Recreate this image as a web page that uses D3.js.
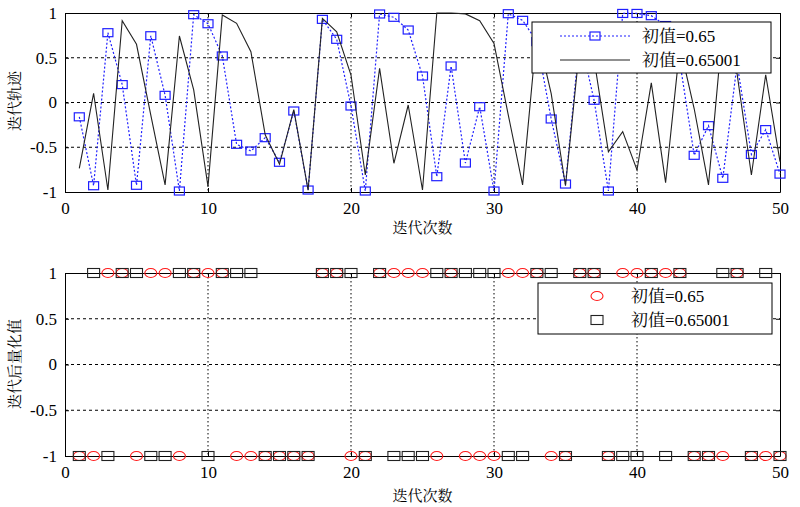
<!DOCTYPE html>
<html><head><meta charset="utf-8">
<script src="https://cdn.jsdelivr.net/npm/d3@7"></script>
<style>
html,body{margin:0;padding:0;background:#fff;}
</style></head>
<body>
<svg id="c" width="800" height="507"></svg>
<script>
// ---- data ----
const iterations = [1,2,3,4,5,6,7,8,9,10,11,12,13,14,15,16,17,18,19,20,21,22,23,24,25,26,27,28,29,30,31,32,33,34,35,36,37,38,39,40,41,42,43,44,45,46,47,48,49,50];
const traj065 = [-0.16,-0.93,0.78,0.20,-0.925,0.746,0.08,-0.989,0.981,0.88,
  0.52,-0.467,-0.542,-0.393,-0.668,-0.095,-0.978,0.929,0.706,-0.039,
  -0.989,0.989,0.952,0.81,0.296,-0.829,0.408,-0.676,-0.047,-0.989,
  0.992,0.918,0.68,-0.184,-0.911,0.73,0.025,-0.989,0.995,0.995,
  0.97,0.86,0.45,-0.59,-0.259,-0.847,0.43,-0.58,-0.303,-0.80];
const traj065001 = [-0.735,0.103,-0.978,0.914,0.65,-0.14,-0.92,0.743,0.14,-0.94,
  0.978,0.885,0.568,-0.36,-0.69,-0.08,-0.98,0.94,0.79,0.307,
  -0.81,0.382,-0.679,-0.028,-0.978,1.0,1.0,0.99,0.914,0.66,
  -0.14,-0.92,0.79,0.10,-0.93,0.64,0.48,-0.55,-0.326,-0.754,
  0.22,-0.896,0.63,-0.07,-0.92,0.85,0.32,-0.81,0.31,-0.66];
const quant065 = [-1,-1,1,1,-1,1,1,-1,1,1, 1,-1,-1,-1,-1,-1,-1,1,1,-1,
  -1,1,1,1,1,-1,1,-1,-1,-1, 1,1,1,-1,-1,1,1,-1,1,1, 1,1,1,-1,-1,-1,1,-1,-1,-1];
const quant065001 = [-1,1,-1,1,1,-1,-1,1,1,-1, 1,1,1,-1,-1,-1,-1,1,1,1,
  -1,1,-1,-1,-1,1,1,1,1,1, -1,-1,1,1,-1,1,1,-1,-1,-1, 1,-1,1,-1,-1,1,1,-1,1,-1];
const xTicks = [0,10,20,30,40,50];
const xTickLabels = ["0","10","20","30","40","50"];
const yTicks = [-1,-0.5,0,0.5,1];
const yTickLabels = ["-1","-0.5","0","0.5","1"];
const legendPrefix = "初值";
const legendValues = ["=0.65","=0.65001"];
const xLabel = "迭代次数";
const yLabelTop = "迭代轨迹";
const yLabelBottom = "迭代后量化值";

// ---- drawing ----
const svg = d3.select("#c");
const L = 65, R = 780;
const x = d3.scaleLinear().domain([0,50]).range([L,R]);
const yT = d3.scaleLinear().domain([-1,1]).range([192,13]);
const yB = d3.scaleLinear().domain([-1,1]).range([456,273]);
const BLUE = "#1f1fff", RED = "#ff1a1a", BLK = "#222";
const SERIF = '"Liberation Serif","Times New Roman",serif';
const CJK = '"Noto Serif CJK SC","Noto Sans CJK SC",serif';

function frame(y, xlabY, ylab, ylabCy){
  const g = svg.append("g");
  g.selectAll(".gv").data(xTicks.filter(t=>t>0&&t<50)).join("line")
    .attr("x1",d=>x(d)).attr("x2",d=>x(d)).attr("y1",y(1)).attr("y2",y(-1))
    .attr("stroke","#000").attr("stroke-width",1).attr("stroke-dasharray","1.5,2.5");
  g.selectAll(".gh").data(yTicks.filter(t=>t>-1&&t<1)).join("line")
    .attr("x1",L).attr("x2",R).attr("y1",d=>y(d)).attr("y2",d=>y(d))
    .attr("stroke","#000").attr("stroke-width",1).attr("stroke-dasharray","3,3");
  const ax = g.append("g");
  ax.append("g").attr("transform",`translate(0,${y(-1)})`)
    .call(d3.axisBottom(x).tickValues(xTicks).tickFormat((d,i)=>xTickLabels[i]).tickSizeInner(-4).tickSizeOuter(0).tickPadding(10));
  ax.append("g").attr("transform",`translate(0,${y(1)})`)
    .call(d3.axisTop(x).tickValues(xTicks).tickFormat("").tickSizeInner(-4).tickSizeOuter(0));
  ax.append("g").attr("transform",`translate(${L},0)`)
    .call(d3.axisLeft(y).tickValues(yTicks).tickFormat((d,i)=>yTickLabels[i]).tickSizeInner(-4).tickSizeOuter(0).tickPadding(8));
  ax.append("g").attr("transform",`translate(${R},0)`)
    .call(d3.axisRight(y).tickValues(yTicks).tickFormat("").tickSizeInner(-4).tickSizeOuter(0));
  ax.selectAll("path.domain").attr("stroke","#000").attr("stroke-width",1);
  ax.selectAll(".tick line").attr("stroke","#000");
  ax.selectAll(".tick text").attr("font-size",17).style("font-family",SERIF).attr("fill","#000");
  g.append("text").attr("x",(L+R)/2).attr("y",xlabY).attr("text-anchor","middle")
    .attr("font-size",15).style("font-family",CJK).text(xLabel);
  g.append("text").attr("transform",`translate(20,${ylabCy}) rotate(-90)`)
    .attr("text-anchor","middle").attr("font-size",15).style("font-family",CJK).text(ylab);
  return g;
}

function legendText(sel, xPos, yPos){
  sel.each(function(d,i){
    const t = d3.select(this).attr("x",xPos).attr("y",yPos(i)).attr("font-size",17);
    t.append("tspan").style("font-family",CJK).text(legendPrefix);
    t.append("tspan").style("font-family",SERIF).text(d);
  });
}

// ---- top plot ----
frame(yT, 233, yLabelTop, 101);
const topG = svg.append("g");
const line = (arr,y)=>d3.line().x((d,i)=>x(iterations[i])).y(d=>y(d))(arr);
topG.append("path").attr("d",line(traj065,yT)).attr("fill","none")
  .attr("stroke",BLUE).attr("stroke-width",1.2).attr("stroke-dasharray","2,2");
topG.selectAll(".bsq").data(traj065).join("rect")
  .attr("x",(d,i)=>x(iterations[i])-5).attr("y",d=>yT(d)-4).attr("width",10).attr("height",8)
  .attr("fill","none").attr("stroke",BLUE).attr("stroke-width",1.2);
topG.append("path").attr("d",line(traj065001,yT)).attr("fill","none")
  .attr("stroke",BLK).attr("stroke-width",1.1);

const lg = svg.append("g");
lg.append("rect").attr("x",532).attr("y",22).attr("width",239).attr("height",51)
  .attr("fill","#fff").attr("stroke","#000").attr("stroke-width",1);
lg.append("line").attr("x1",560).attr("x2",630).attr("y1",36).attr("y2",36)
  .attr("stroke",BLUE).attr("stroke-width",1.2).attr("stroke-dasharray","2,2");
lg.append("rect").attr("x",590).attr("y",32).attr("width",10).attr("height",8)
  .attr("fill","none").attr("stroke",BLUE).attr("stroke-width",1.2);
lg.append("line").attr("x1",560).attr("x2",630).attr("y1",60).attr("y2",60)
  .attr("stroke",BLK).attr("stroke-width",1.1);
lg.selectAll("text").data(legendValues).join("text").call(legendText, 642, i=>42+i*24);

// ---- bottom plot ----
frame(yB, 501, yLabelBottom, 364);
const botG = svg.append("g");
botG.selectAll(".rc").data(quant065).join("ellipse")
  .attr("cx",(d,i)=>x(iterations[i])).attr("cy",d=>yB(d)).attr("rx",6).attr("ry",4.5)
  .attr("fill","none").attr("stroke",RED).attr("stroke-width",1.1);
botG.selectAll(".ks").data(quant065001).join("rect")
  .attr("x",(d,i)=>x(iterations[i])-6).attr("y",d=>yB(d)-4.5).attr("width",12).attr("height",9)
  .attr("fill","none").attr("stroke",BLK).attr("stroke-width",1.1);

const lg2 = svg.append("g");
lg2.append("rect").attr("x",538).attr("y",283).attr("width",234).attr("height",51)
  .attr("fill","#fff").attr("stroke","#000").attr("stroke-width",1);
lg2.append("ellipse").attr("cx",597).attr("cy",296).attr("rx",6).attr("ry",4.5)
  .attr("fill","none").attr("stroke",RED).attr("stroke-width",1.1);
lg2.append("rect").attr("x",591).attr("y",315.5).attr("width",12).attr("height",9)
  .attr("fill","none").attr("stroke",BLK).attr("stroke-width",1.1);
lg2.selectAll("text").data(legendValues).join("text").call(legendText, 631, i=>302+i*24);
</script>
</body></html>
